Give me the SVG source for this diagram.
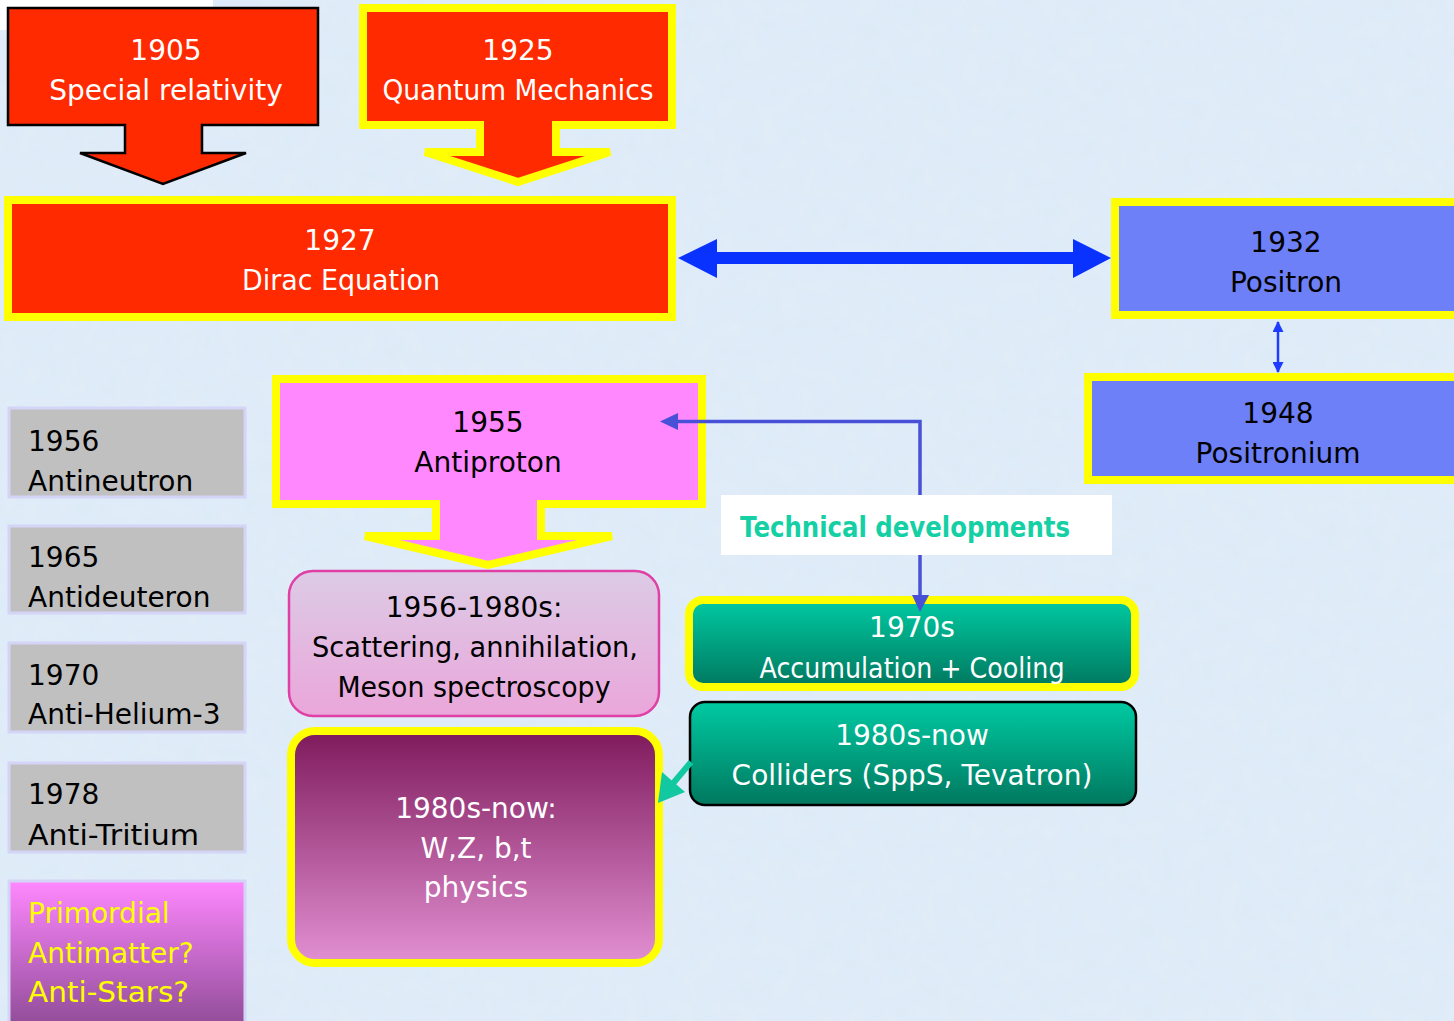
<svg xmlns="http://www.w3.org/2000/svg" width="1454" height="1021" viewBox="0 0 1454 1021">
<defs>
<style>
.t{font-family:"DejaVu Sans","Liberation Sans",sans-serif;font-size:28px;}
.c{text-anchor:middle;}
.w{fill:#ffffff;}
.k{fill:#000000;}
.y{fill:#ffff00;}
.red{fill:#ff2a00;}
.ys{stroke:#ffff00;stroke-width:8;stroke-linejoin:miter;}
.gray{fill:#c0c0c0;stroke:#d4d4f6;stroke-width:3;}
.blue{fill:#6e80f7;}
</style>
<linearGradient id="teal" x1="0" y1="0" x2="0" y2="1">
<stop offset="0" stop-color="#00caa2"/>
<stop offset="1" stop-color="#00785f"/>
</linearGradient>
<linearGradient id="plum" x1="0" y1="0" x2="0" y2="1">
<stop offset="0" stop-color="#7e1a5c"/>
<stop offset="1" stop-color="#e290d2"/>
</linearGradient>
<linearGradient id="lav" x1="0" y1="0" x2="0" y2="1">
<stop offset="0" stop-color="#dccbe6"/>
<stop offset="1" stop-color="#eaa6da"/>
</linearGradient>
<linearGradient id="prim" x1="0" y1="0" x2="0" y2="1">
<stop offset="0" stop-color="#ff88ff"/>
<stop offset="1" stop-color="#8c4a94"/>
</linearGradient>
<filter id="tex" x="0" y="0" width="100%" height="100%">
<feTurbulence type="fractalNoise" baseFrequency="0.05" numOctaves="3" seed="3"/>
<feColorMatrix type="matrix" values="0 0 0 0 0.80  0 0 0 0 0.87  0 0 0 0 0.96  0 0 0 0.5 0"/>
</filter>
<marker id="ah" viewBox="0 0 10 10" refX="9" refY="5" markerWidth="12" markerHeight="11" orient="auto-start-reverse" markerUnits="userSpaceOnUse">
<path d="M0,0 L10,5 L0,10 z" fill="#1e3cff"/>
</marker>
</defs>
<rect x="0" y="0" width="1454" height="1021" fill="#dceaf7"/>
<rect x="0" y="0" width="1454" height="1021" filter="url(#tex)"/>
<rect x="0" y="0" width="213" height="30" fill="#ffffff"/>

<g id="n1905">
<polygon points="8,8 318,8 318,125 202,125 202,153 246,153 163,184 80,153 125,153 125,125 8,125" class="red" stroke="#000" stroke-width="2.5"/>
<text class="t c w" x="166" y="60">1905</text>
<text class="t c w" x="166" y="100">Special relativity</text>
</g>

<g id="n1925">
<polygon points="363,8 672,8 672,125 556,125 556,152 610,152 518,182 425,152 480,152 480,125 363,125" class="red ys"/>
<text class="t c w" x="518" y="60">1925</text>
<text class="t c w" x="518" y="100" textLength="271" lengthAdjust="spacingAndGlyphs">Quantum Mechanics</text>
</g>

<g id="n1927">
<rect x="8" y="200" width="664" height="117" class="red ys"/>
<text class="t c w" x="340" y="250">1927</text>
<text class="t c w" x="341" y="290" textLength="198" lengthAdjust="spacingAndGlyphs">Dirac Equation</text>
</g>

<g id="n1932">
<rect x="1115" y="202" width="350" height="113" class="blue ys"/>
<text class="t c k" x="1286" y="252">1932</text>
<text class="t c k" x="1286" y="292">Positron</text>
</g>

<g id="n1948">
<rect x="1088" y="377" width="380" height="103" class="blue ys"/>
<text class="t c k" x="1278" y="423">1948</text>
<text class="t c k" x="1278" y="463">Positronium</text>
</g>

<g id="n1956">
<rect x="9" y="408" width="236" height="89" class="gray"/>
<text class="t k" x="28" y="451">1956</text>
<text class="t k" x="28" y="491">Antineutron</text>
</g>
<g id="n1965">
<rect x="9" y="526" width="236" height="87" class="gray"/>
<text class="t k" x="28" y="567">1965</text>
<text class="t k" x="28" y="607">Antideuteron</text>
</g>
<g id="n1970">
<rect x="9" y="643" width="236" height="89" class="gray"/>
<text class="t k" x="28" y="685">1970</text>
<text class="t k" x="28" y="724">Anti-Helium-3</text>
</g>
<g id="n1978">
<rect x="9" y="763" width="236" height="89" class="gray"/>
<text class="t k" x="28" y="804">1978</text>
<text class="t k" x="28" y="845" textLength="171" lengthAdjust="spacingAndGlyphs">Anti-Tritium</text>
</g>
<g id="nPrimordial">
<rect x="9" y="881" width="236" height="150" fill="url(#prim)" stroke="#d4d4f6" stroke-width="3"/>
<text class="t y" x="28" y="923">Primordial</text>
<text class="t y" x="28" y="963">Antimatter?</text>
<text class="t y" x="28" y="1002" textLength="161" lengthAdjust="spacingAndGlyphs">Anti-Stars?</text>
</g>

<g id="n1955">
<polygon points="276,379 702,379 702,504 541,504 541,536 612,536 488,565 365,536 436,536 436,504 276,504" fill="#ff88ff" class="ys"/>
<text class="t c k" x="488" y="432">1955</text>
<text class="t c k" x="488" y="472">Antiproton</text>
</g>

<g id="nScattering">
<rect x="289" y="571" width="370" height="145" rx="24" fill="url(#lav)" stroke="#e040a6" stroke-width="2.5"/>
<text class="t c k" x="474" y="617">1956-1980s:</text>
<text class="t c k" x="475" y="657" textLength="326" lengthAdjust="spacingAndGlyphs">Scattering, annihilation,</text>
<text class="t c k" x="474" y="697" textLength="273" lengthAdjust="spacingAndGlyphs">Meson spectroscopy</text>
</g>

<g id="nWZ">
<rect x="291" y="731" width="368" height="232" rx="24" fill="url(#plum)" stroke="#ffff00" stroke-width="8"/>
<text class="t c w" x="476" y="818">1980s-now:</text>
<text class="t c w" x="476" y="858">W,Z, b,t</text>
<text class="t c w" x="476" y="897">physics</text>
</g>

<g id="nTech">
<rect x="721" y="495" width="391" height="60" fill="#ffffff"/>
<text x="740" y="537" font-family="DejaVu Sans,Liberation Sans,sans-serif" font-size="28" font-weight="bold" fill="#14d0a4" textLength="330" lengthAdjust="spacingAndGlyphs">Technical developments</text>
</g>

<g id="n1970s">
<rect x="689" y="600" width="446" height="87" rx="14" fill="url(#teal)" stroke="#ffff00" stroke-width="8"/>
<text class="t c w" x="912" y="637">1970s</text>
<text class="t c w" x="912" y="678" textLength="305" lengthAdjust="spacingAndGlyphs">Accumulation + Cooling</text>
</g>

<g id="nColliders">
<rect x="690" y="702" width="446" height="103" rx="15" fill="url(#teal)" stroke="#000" stroke-width="2.5"/>
<text class="t c w" x="912" y="745">1980s-now</text>
<text class="t c w" x="912" y="785">Colliders (SppS, Tevatron)</text>
</g>

<g id="connectors">
<polygon points="678,258 717,239 717,252 1073,252 1073,239 1111,258 1073,278 1073,264 717,264 717,278" fill="#0a32ff"/>
<line x1="1278" y1="322" x2="1278" y2="372" stroke="#1e3cff" stroke-width="2.5" marker-start="url(#ah)" marker-end="url(#ah)"/>
<polyline points="676,421.5 920,421.5 920,495" fill="none" stroke="#4850d8" stroke-width="3.5"/>
<polygon points="660,421.5 678,413 678,430" fill="#4850d8"/>
<line x1="920" y1="555" x2="920" y2="597" stroke="#4850d8" stroke-width="3.5"/>
<polygon points="920,612 912,595 929,595" fill="#4850d8"/>
<line x1="691" y1="762" x2="670" y2="787" stroke="#12c8a0" stroke-width="6"/>
<polygon points="658,803 662,772 685,792" fill="#12c8a0"/>
</g>
</svg>
